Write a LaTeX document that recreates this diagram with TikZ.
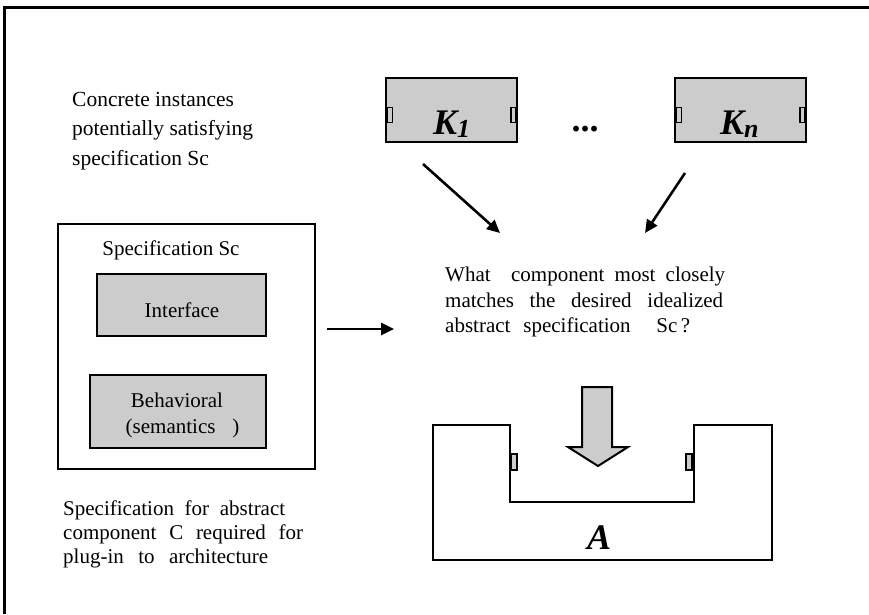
\documentclass[tikz,border=0pt]{standalone}
\usepackage{fontspec}
\setmainfont{Liberation Serif}
\usetikzlibrary{arrows.meta}
\definecolor{boxgray}{RGB}{204,204,204}
\tikzset{
 box/.style={draw, line width=2.2pt, fill=boxgray, inner sep=0pt},
 framebox/.style={draw, line width=2.2pt, fill=white, inner sep=0pt},
 port/.style={draw, line width=1.4pt, fill=boxgray, inner sep=0pt, minimum width=5pt, minimum height=15pt},
 txt/.style={inner sep=0pt, anchor=base west, font=\fontsize{21}{25}\selectfont},
 ctxt/.style={inner sep=0pt, anchor=base, font=\fontsize{21}{25}\selectfont},
 big/.style={inner sep=0pt, anchor=base west, font=\fontsize{36}{36}\selectfont\bfseries\itshape},
 conn/.style={line width=2.6pt, -{Triangle[length=13pt,width=12pt]}},
 outline/.style={line width=2.2pt},
}
\begin{document}
\begin{tikzpicture}[x=1pt,y=-1pt]
\useasboundingbox (0,0) rectangle (869,614);
% outer frame (top and left edges)
\draw[outline] (869,7.5) -- (4.5,7.5) -- (4.5,614);

% concrete instances
\node[box, minimum width=131pt, minimum height=64pt] (k1) at (451.5,110) {};
\node[box, minimum width=131pt, minimum height=64pt] (kn) at (740.5,110) {};
\node[port] (k1p1) at (390,115) {};
\node[port] (k1p2) at (513.5,115) {};
\node[port] (knp1) at (679,115) {};
\node[port] (knp2) at (802.5,115) {};
\node[big] (k1l) at (433,134) {K\raisebox{-3pt}{\fontsize{26}{26}\selectfont 1}};
\node[big] (knl) at (720,134) {K\raisebox{-3pt}{\fontsize{26}{26}\selectfont n}};
\node[inner sep=0pt, anchor=base, font=\fontsize{36}{36}\selectfont\bfseries] (dots) at (585,131) {...};

\node[txt, font=\fontsize{21.5}{25}\selectfont] (c1) at (72,106) {Concrete instances};
\node[txt, font=\fontsize{21.5}{25}\selectfont] (c2) at (72,135) {potentially satisfying};
\node[txt, font=\fontsize{21.5}{25}\selectfont] (c3) at (72,165) {specification Sc};

% specification box
\node[framebox, minimum width=257pt, minimum height=245pt] (spec) at (186.5,346.5) {};
\node[ctxt] (spect) at (171,255) {Specification Sc};
\node[box, minimum width=169pt, minimum height=62pt] (iface) at (181.5,305) {};
\node[ctxt] (ifacet) at (182,317) {Interface};
\node[box, minimum width=176pt, minimum height=73pt] (behav) at (178,411.5) {};
\node[ctxt] (behavt1) at (177,407) {Behavioral};
\node[ctxt] (behavt2) at (182.5,433) {(semantics\hspace{0.8em})};

\node[txt] (s1) at (63,515) {\makebox[222pt][s]{Specification for abstract}};
\node[txt] (s2) at (63,539) {\makebox[240pt][s]{component C required for}};
\node[txt] (s3) at (63,563) {\makebox[205pt][s]{plug-in to architecture}};

% question
\node[txt] (q1) at (445,281) {\makebox[280pt][s]{What \ component most closely}};
\node[txt] (q2) at (445,307) {\makebox[278pt][s]{matches the desired idealized}};
\node[txt] (q3) at (445,332) {\makebox[245pt][s]{abstract specification \ Sc\,?}};

% connectors
\coordinate (a1s) at (423,164);
\coordinate (a1e) at (500,233);
\coordinate (a2s) at (685,173);
\coordinate (a2e) at (645,233);
\coordinate (a3s) at (327,329);
\coordinate (a3e) at (394,329);
\draw[conn] (a1s) -- (a1e);
\draw[conn] (a2s) -- (a2e);
\draw[conn] (a3s) -- (a3e);

% big down arrow
\draw[line width=2pt, fill=boxgray, line join=miter]
  (582,387) -- (612,387) -- (612,447) -- (628,447) -- (598,466) -- (568,447) -- (582,447) -- cycle;

% architecture A
\draw[outline, line join=miter]
  (433,425) -- (510,425) -- (510,502) -- (694,502) -- (694,425) -- (772,425) -- (772,560) -- (433,560) -- cycle;
\node[port, minimum width=6pt, minimum height=16pt] (ap1) at (514,462) {};
\node[port, minimum width=6pt, minimum height=16pt] (ap2) at (689,462) {};
\node[big, anchor=base] (al) at (599,549) {A};
\end{tikzpicture}
\end{document}
